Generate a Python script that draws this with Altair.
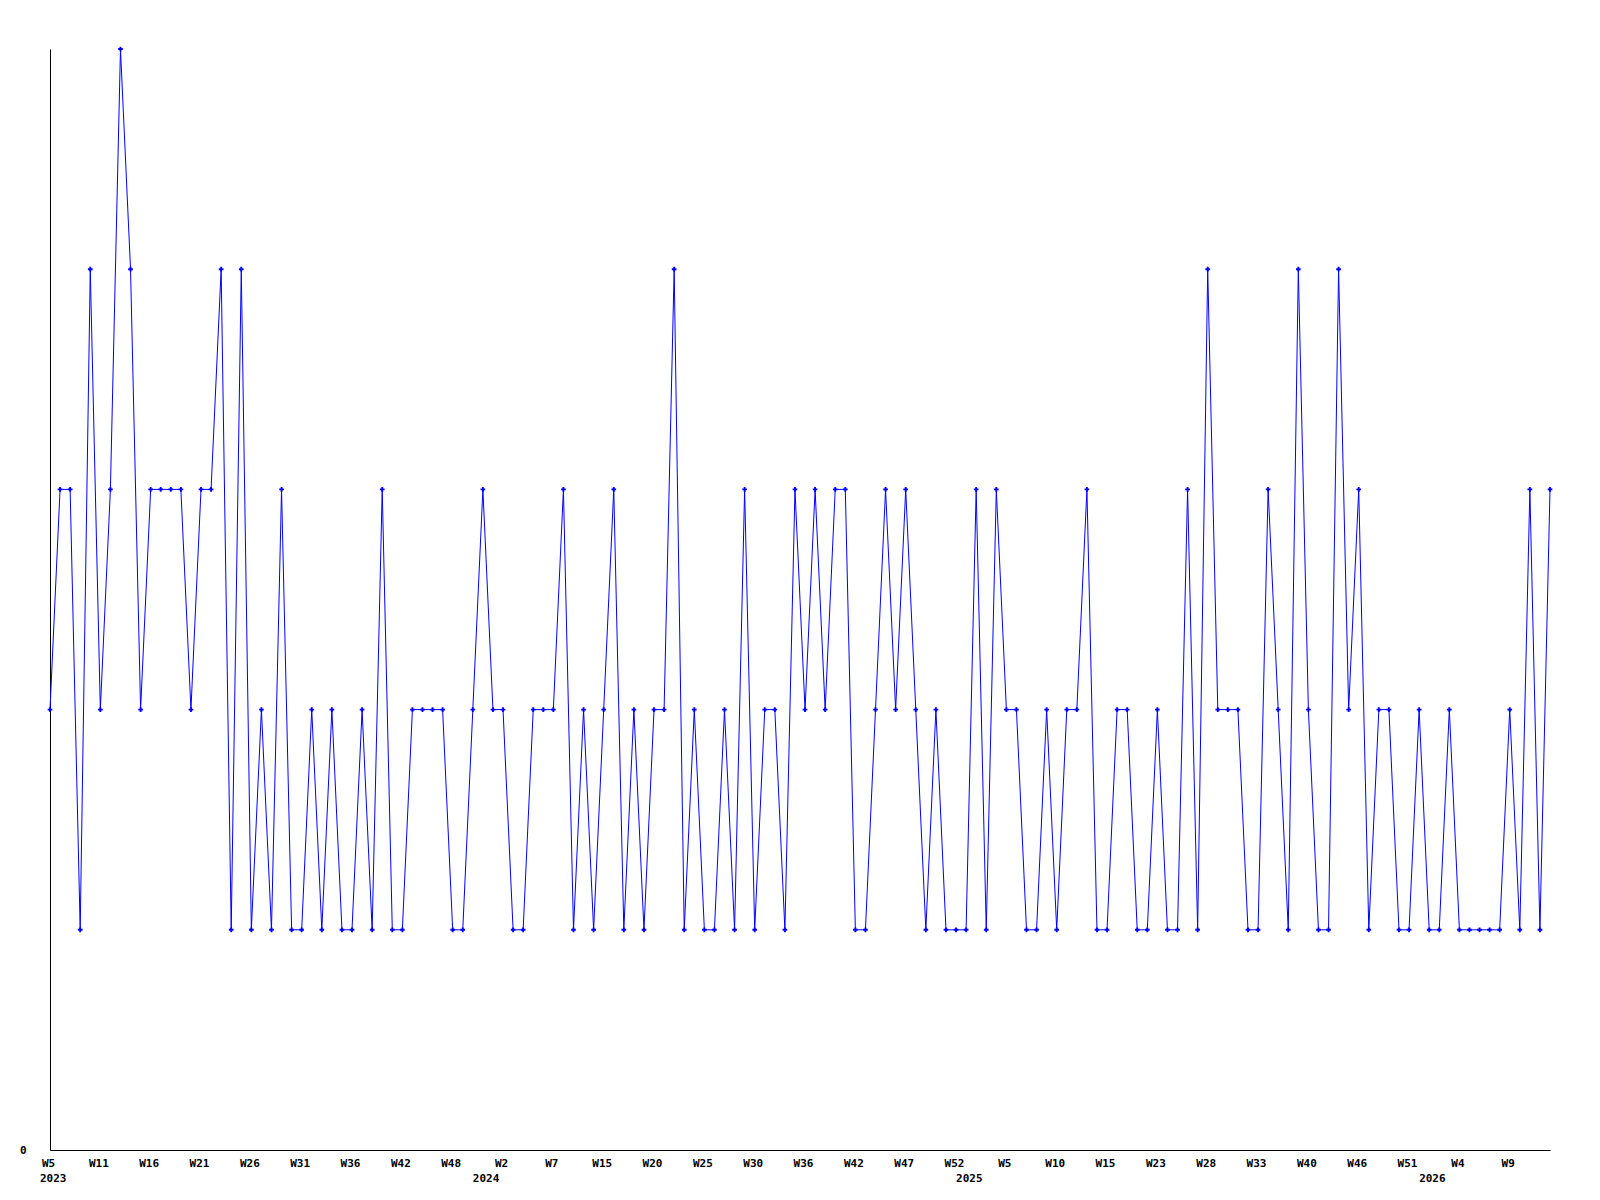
import altair as alt
import pandas as pd

# Weekly values (one per plotted point, in order)
values = [2, 3, 3, 1, 4, 2, 3, 5, 4, 2,
          3, 3, 3, 3, 2, 3, 3, 4, 1, 4,
          1, 2, 1, 3, 1, 1, 2, 1, 2, 1,
          1, 2, 1, 3, 1, 1, 2, 2, 2, 2,
          1, 1, 2, 3, 2, 2, 1, 1, 2, 2,
          2, 3, 1, 2, 1, 2, 3, 1, 2, 1,
          2, 2, 4, 1, 2, 1, 1, 2, 1, 3,
          1, 2, 2, 1, 3, 2, 3, 2, 3, 3,
          1, 1, 2, 3, 2, 3, 2, 1, 2, 1,
          1, 1, 3, 1, 3, 2, 2, 1, 1, 2,
          1, 2, 2, 3, 1, 1, 2, 2, 1, 1,
          2, 1, 1, 3, 1, 4, 2, 2, 2, 1,
          1, 3, 2, 1, 4, 2, 1, 1, 4, 2,
          3, 1, 2, 2, 1, 1, 2, 1, 1, 2,
          1, 1, 1, 1, 1, 2, 1, 3, 1, 3]

# Tick labels, shown on every 5th point
tick_labels = ["W5", "W11", "W16", "W21", "W26", "W31", "W36", "W42", "W48", "W2",
               "W7", "W15", "W20", "W25", "W30", "W36", "W42", "W47", "W52", "W5",
               "W10", "W15", "W23", "W28", "W33", "W40", "W46", "W51", "W4", "W9"]

# Year labels and the point index where each one starts
years = ["2023", "2024", "2025", "2026"]
year_index = [-1, 42, 90, 136]

df = pd.DataFrame({"i": list(range(len(values))), "v": values})
ydf = pd.DataFrame({"pos": year_index, "year": years})

FONT = "DejaVu Sans Mono"
FS = 11
W, H = 1500, 1101
xscale = alt.Scale(domain=[0, len(values) - 1], nice=False, zero=False)
yscale = alt.Scale(domain=[0, 5], nice=False)

label_js = "[" + ",".join("'%s'" % t for t in tick_labels) + "]"

x_axis = alt.Axis(
    values=list(range(0, len(tick_labels) * 5, 5)),
    labelExpr=label_js + "[round(datum.value/5)]",
    ticks=False, tickSize=0, labelPadding=7, title=None,
    domainColor="black", domainWidth=1,
    labelFont=FONT, labelFontSize=FS, labelFontWeight="bold", labelColor="black",
    labelOffset=-2, labelFlush=False, labelOverlap=False, grid=False,
)
y_axis = alt.Axis(
    values=[0], ticks=False, tickSize=0, labelPadding=24, title=None,
    domainColor="black", domainWidth=1,
    labelFont=FONT, labelFontSize=FS, labelFontWeight="bold", labelColor="black",
    grid=False,
)

base = alt.Chart(df).encode(
    x=alt.X("i:Q", scale=xscale, axis=x_axis),
    y=alt.Y("v:Q", scale=yscale, axis=y_axis),
)
line = base.mark_line(color="#0000ff", strokeWidth=1)
pts = base.mark_point(shape="cross", filled=True, size=22, color="#0000ff", opacity=1)

yr = alt.Chart(ydf).mark_text(
    align="left", baseline="middle", font=FONT, fontSize=FS,
    fontWeight="bold", color="black"
).encode(
    x=alt.X("pos:Q", scale=xscale),
    y=alt.value(H + 29),
    text="year:N",
)

chart = alt.layer(line, pts, yr).properties(
    width=W, height=H,
    autosize=alt.AutoSizeParams(type="none"),
    padding={"left": 42, "top": 41, "right": 40, "bottom": 60},
).configure_view(stroke=None)

chart.save("out.html", embed_options={"renderer": "svg", "actions": False})
